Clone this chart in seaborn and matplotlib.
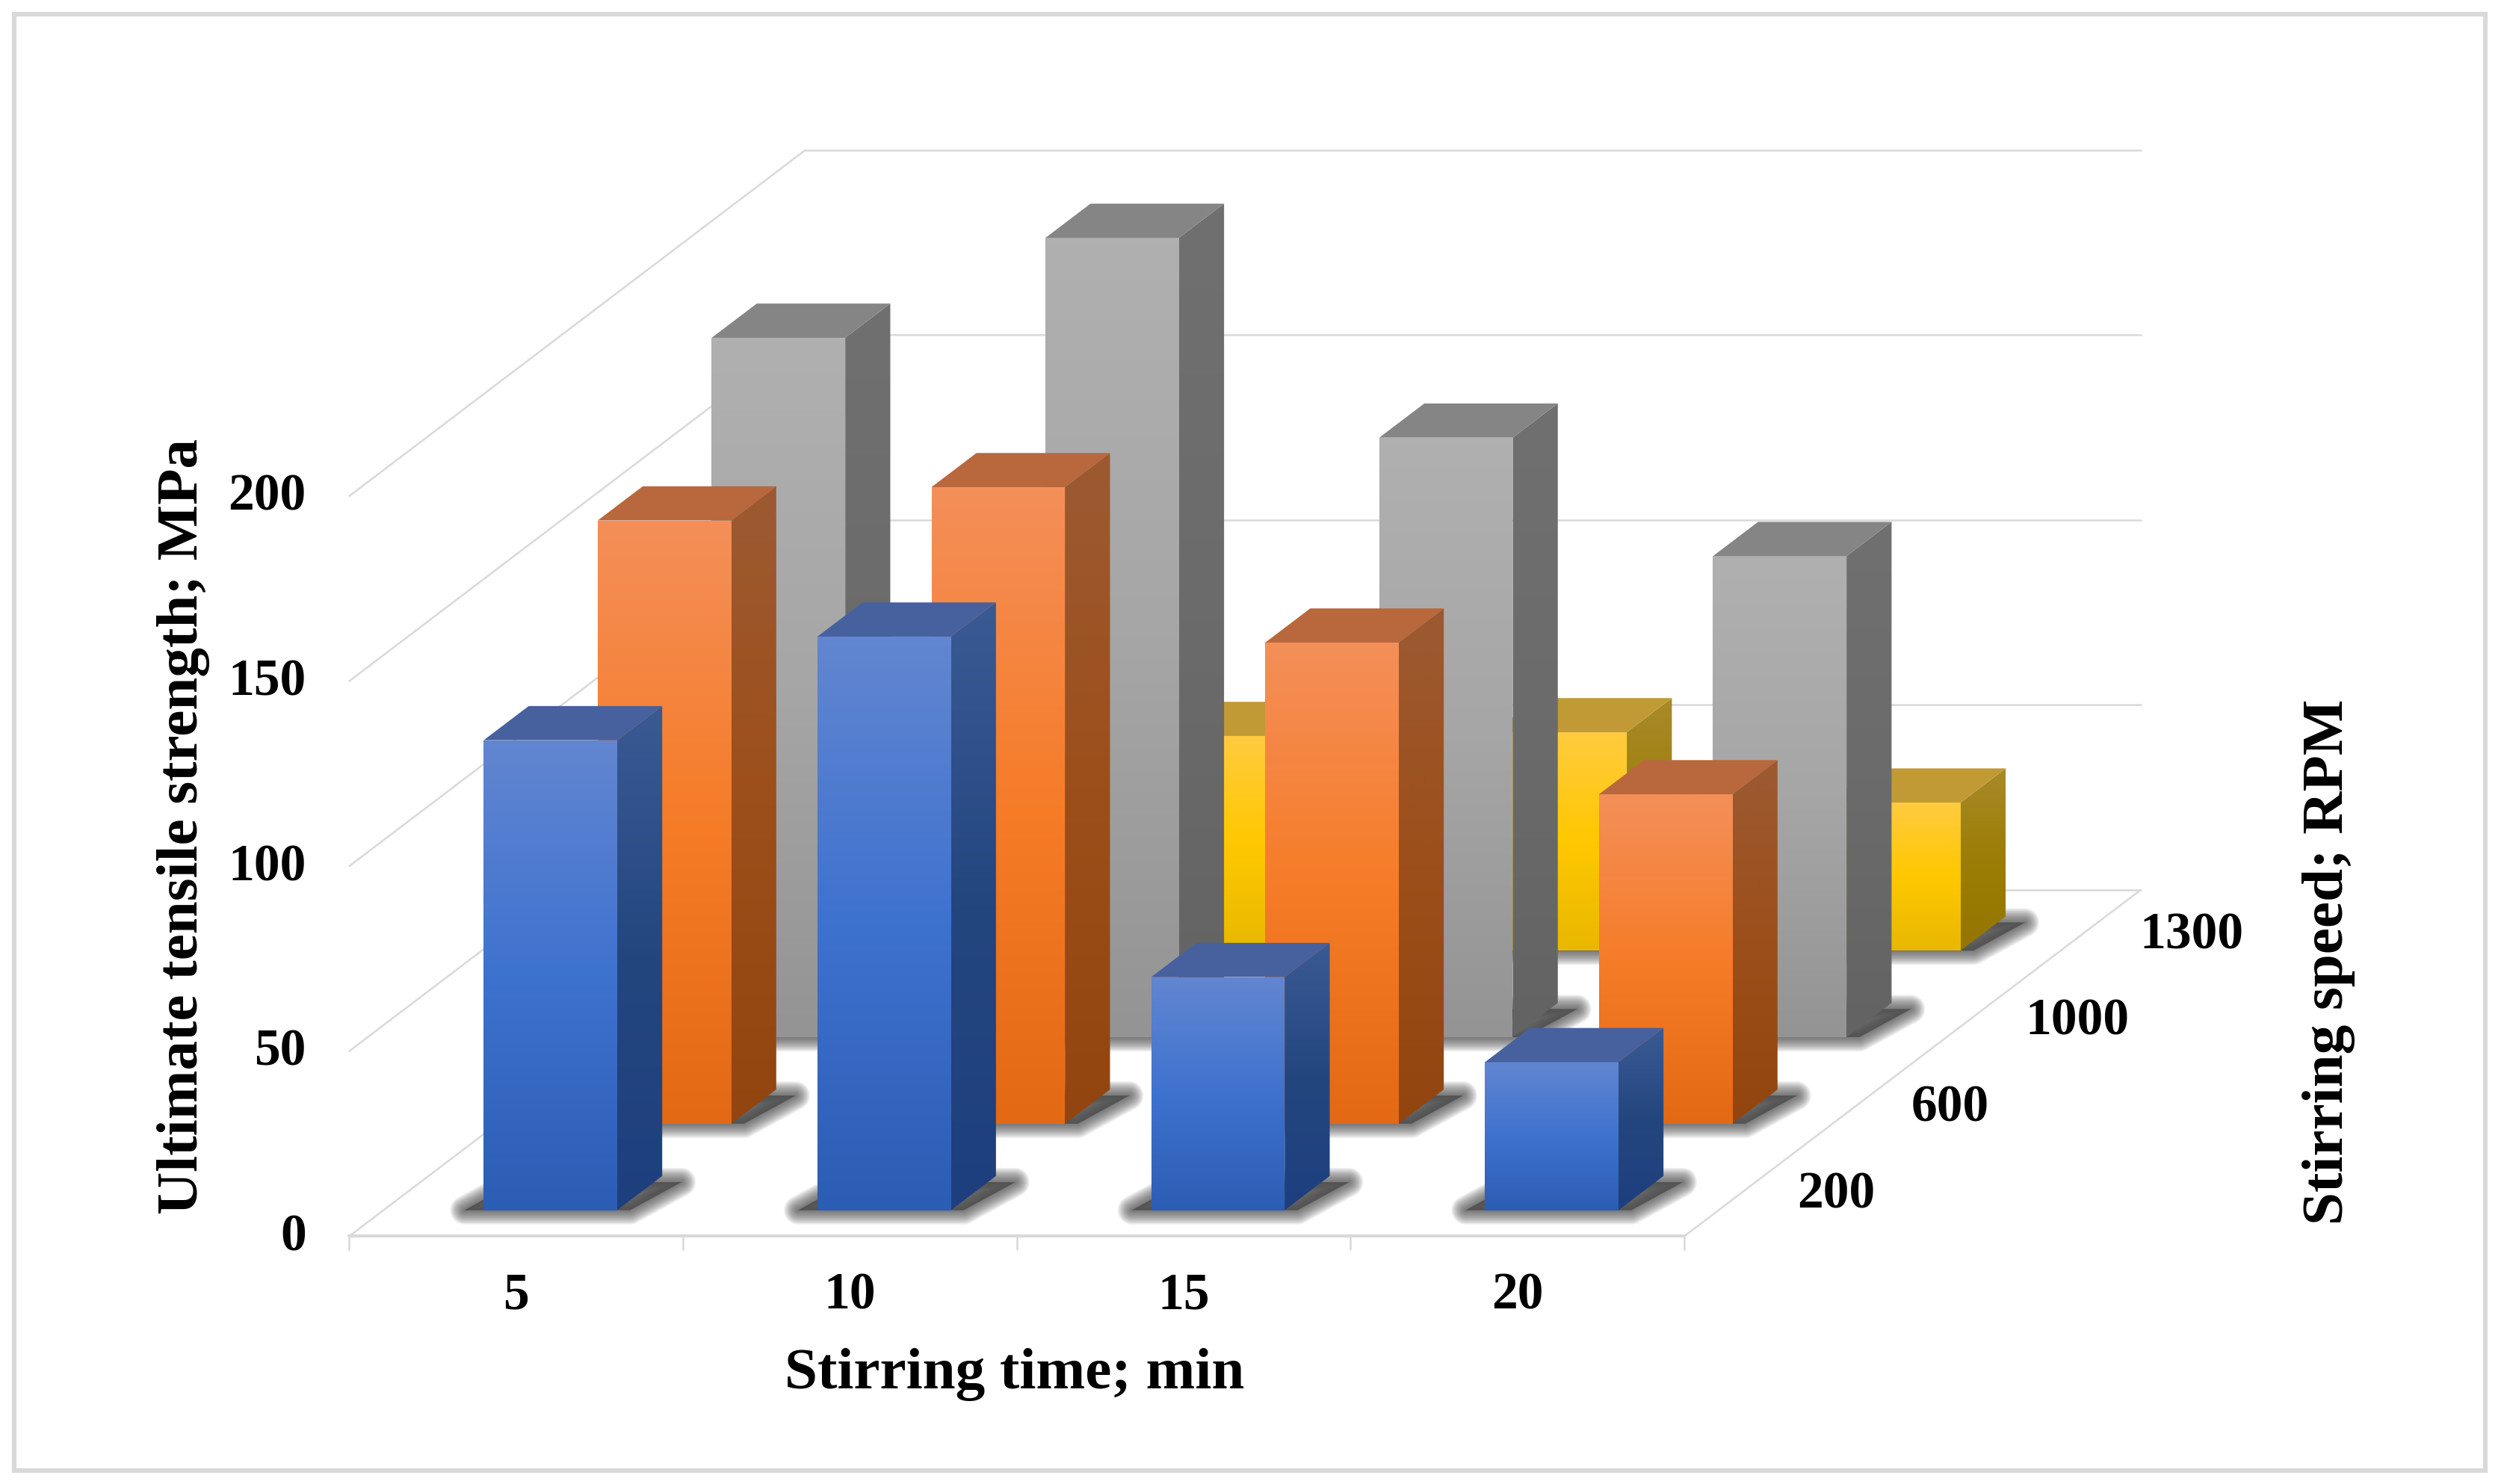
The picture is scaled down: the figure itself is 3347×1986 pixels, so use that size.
import numpy as np
import pandas as pd
import matplotlib
matplotlib.use("Agg")
import matplotlib.pyplot as plt
import seaborn as sns
from matplotlib.colors import LinearSegmentedColormap
from matplotlib.patches import Polygon, Rectangle

# data
stir_time = [5, 10, 15, 20]
stir_speed = [200, 600, 1000, 1300]
uts_200 = [127, 155, 63, 40]
uts_600 = [163, 172, 130, 89]
uts_1000 = [189, 216, 162, 130]
uts_1300 = [56, 58, 59, 40]
uts_ticks = [0, 50, 100, 150, 200]

# colours per series: front ramp (bottom, mid, top), side ramp, top face
styles = {
    200: (["#2C5DB4", "#3E72CF", "#6286D1"], ["#1E3F7E", "#24467F", "#3A5A94"], "#47619F"),
    600: (["#E36915", "#F67C28", "#F48F59"], ["#93450F", "#9C4F1A", "#9C5A32"], "#B8683C"),
    1000: (["#949494", "#A6A6A6", "#B0B0B0"], ["#636363", "#6B6B6B", "#707070"], "#858585"),
    1300: (["#E8B800", "#FFC800", "#FFCB40"], ["#947600", "#9C7D05", "#A88A2A"], "#C19A35"),
}

sns.set_theme(style="white")
plt.rcParams["font.family"] = ["Liberation Serif", "DejaVu Serif"]
plt.rcParams["font.weight"] = "bold"

# picture scale: reference measured on a 1568 wide view
VIEW_W, VIEW_H = 1568.0, 930.4
ORIGIN_X, ORIGIN_Y = 219.0, 775.0
PX_PER_CAT, PX_PER_MPA = 209.25, 2.32
ROW_DX, ROW_DY = 71.5 / PX_PER_CAT, 54.25 / PX_PER_MPA
BAR_START, BAR_DEPTH = 0.30, 0.395
BAR_WIDTH = 0.40
GRID = "#D9D9D9"
TICK_SIZE, TITLE_SIZE = 25, 28.5


def px(dx):
    return dx / PX_PER_CAT


def mpa(dy):
    return dy / PX_PER_MPA


def shade(ax, verts, colors, z):
    # vertical gradient clipped to a polygon
    verts = np.asarray(verts)
    ramp = LinearSegmentedColormap.from_list("ramp", colors)
    grad = np.linspace(0, 1, 256)[:, None]
    x0, x1 = verts[:, 0].min(), verts[:, 0].max()
    y0, y1 = verts[:, 1].min(), verts[:, 1].max()
    img = ax.imshow(grad, cmap=ramp, extent=(x0, x1, y0, y1), origin="lower",
                    aspect="auto", zorder=z, interpolation="bilinear")
    clip = Polygon(verts, closed=True, transform=ax.transData, fc="none", ec="none")
    ax.add_patch(clip)
    img.set_clip_path(clip)


def soft_shadow(ax, x0, x1, base, dx, dy, z):
    # blurred footprint on the floor, built from stacked soft strokes
    verts = [
        (x0 - px(12), base),
        (x1 + px(8), base),
        (x1 + dx + px(12), base + dy * 0.82),
        (x0 + dx - px(8), base + dy * 0.82),
    ]
    for lw in np.arange(0, 15, 1.25):
        ax.add_patch(Polygon(verts, closed=True, fc="#484848", ec="#484848", lw=lw,
                             alpha=0.10, joinstyle="round", zorder=z))


fig = plt.figure(figsize=(16.735, 9.93), dpi=200, facecolor="white")
ax = fig.add_axes([0, 0, 1, 1])

n_cat, n_row = len(stir_time), len(stir_speed)
depth_x, depth_y = n_row * ROW_DX, n_row * ROW_DY

# walls and floor
for v in uts_ticks:
    ax.plot([0, depth_x], [v, v + depth_y], color=GRID, lw=0.9, zorder=1)
    ax.plot([depth_x, depth_x + n_cat], [v + depth_y, v + depth_y], color=GRID, lw=0.9, zorder=1)
ax.plot([n_cat, n_cat + depth_x], [0, depth_y], color=GRID, lw=0.9, zorder=1)
ax.plot([0, n_cat], [0, 0], color=GRID, lw=1.5, zorder=1)
ax.vlines(np.arange(n_cat + 1), -mpa(9), 0, color=GRID, lw=0.9, zorder=1)

# bars, back row first
series = {200: uts_200, 600: uts_600, 1000: uts_1000, 1300: uts_1300}
for row, speed in reversed(list(enumerate(stir_speed))):
    front, side, top = styles[speed]
    shift = (row + BAR_START)
    base = shift * ROW_DY
    dx, dy = BAR_DEPTH * ROW_DX, BAR_DEPTH * ROW_DY
    z = 20 + (3 - row) * 10
    df = pd.DataFrame({"pos": np.arange(n_cat) + 0.5 + shift * ROW_DX, "uts": series[speed]})
    n_before = len(ax.containers)
    sns.barplot(data=df, x="pos", y="uts", native_scale=True, width=BAR_WIDTH, bottom=base,
                color=front[1], saturation=1, errorbar=None, linewidth=0, ax=ax, zorder=z)
    for bar in ax.containers[n_before]:
        x0, x1 = bar.get_x(), bar.get_x() + bar.get_width()
        y0, y1 = bar.get_y(), bar.get_y() + bar.get_height()
        soft_shadow(ax, x0, x1, y0, dx, dy, z - 1)
        shade(ax, [(x0, y0), (x1, y0), (x1, y1), (x0, y1)], front, z + 1)
        shade(ax, [(x1, y0), (x1 + dx, y0 + dy), (x1 + dx, y1 + dy), (x1, y1)], side, z + 1)
        ax.add_patch(Polygon([(x0, y1), (x1, y1), (x1 + dx, y1 + dy), (x0 + dx, y1 + dy)],
                             closed=True, fc=top, ec="none", zorder=z + 1))

# tick labels
for v in uts_ticks:
    ax.text(px(-27), v - mpa(1), str(v), ha="right", va="center", fontsize=TICK_SIZE,
            fontweight="bold", color="black", zorder=90)
for i, t in enumerate(stir_time):
    ax.text(i + 0.5, mpa(-37.5), str(t), ha="center", va="center", fontsize=TICK_SIZE,
            fontweight="bold", color="black", zorder=90)
for row, speed in enumerate(stir_speed):
    ax.text(n_cat + (row + 0.5) * ROW_DX + px(35), (row + 0.5) * ROW_DY - mpa(1.5), str(speed),
            ha="left", va="center", fontsize=TICK_SIZE, fontweight="bold", color="black", zorder=90)

# axis titles
ax.text(px(636 - ORIGIN_X), mpa(ORIGIN_Y - 862), "Stirring time; min", ha="center", va="center",
        fontsize=TITLE_SIZE, fontweight="bold", color="black")
ax.text(px(115 - ORIGIN_X), mpa(ORIGIN_Y - 518), "Ultimate tensile strength; MPa", ha="center",
        va="center", rotation=90, fontsize=TITLE_SIZE, fontweight="bold", color="black")
ax.text(px(1460 - ORIGIN_X), mpa(ORIGIN_Y - 603), "Stirring speed; RPM", ha="center", va="center",
        rotation=90, fontsize=TITLE_SIZE, fontweight="bold", color="black")

ax.set_xlim(px(-ORIGIN_X), px(VIEW_W - ORIGIN_X))
ax.set_ylim(mpa(ORIGIN_Y - VIEW_H), mpa(ORIGIN_Y))
ax.set_axis_off()

# outer frame of the chart area
fig.add_artist(Rectangle((9 / VIEW_W, 1 - 922 / VIEW_H), (1558 - 9) / VIEW_W, (922 - 9) / VIEW_H,
                         transform=fig.transFigure, fc="none", ec=GRID, lw=2.2))

fig.savefig("out.png", dpi=200, facecolor="white")
